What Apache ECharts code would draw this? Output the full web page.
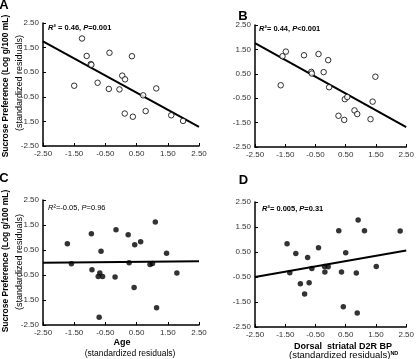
<!DOCTYPE html>
<html>
<head>
<meta charset="utf-8">
<script src="https://cdn.jsdelivr.net/npm/echarts@6/dist/echarts.min.js"></script>
<style>
html,body{margin:0;padding:0;background:#fff;}
#chart{width:417px;height:359px;}
</style>
</head>
<body>
<div id="chart"></div>
<script>
// tick values shared by every axis
var ticks = [-2.5, -1.5, -0.5, 0.5, 1.5, 2.5];

// A - open circles
var aX = [-1.25, -1.10, -0.97, -0.95, -1.50, -0.75, -0.37, -0.39, 0.04, 0.13, -0.05, 0.35, 0.12, 0.38, 0.71, 0.79, 1.13, 1.61, 1.99];
var aY = [1.87, 1.16, 0.83, 0.80, -0.05, 0.07, 1.29, -0.18, 0.36, 0.21, -0.20, 1.15, -1.18, -1.31, -0.44, -1.08, -0.16, -1.25, -1.48];
// B - open circles
var bX = [-1.65, -1.59, -1.48, -0.88, -0.64, -0.62, -0.40, -0.23, -0.08, -0.05, 0.26, 0.45, 0.47, 0.55, 0.79, 0.88, 1.32, 1.39, 1.48];
var bY = [0.03, 1.22, 1.41, 1.26, 0.58, 0.51, 1.31, 0.57, 1.06, -0.05, -1.22, -1.39, -0.54, -0.45, -1.00, -1.15, -1.36, -0.64, 0.38];
// C - filled dots
var cX = [-1.72, -1.59, -0.95, -0.64, -0.93, -0.68, -0.73, -0.59, -0.70, -0.19, -0.16, 0.23, 0.26, 0.44, 0.63, 0.42, 0.93, 1.01, 1.10, 1.14, 1.46, 1.79];
var cY = [0.75, -0.05, 1.15, 0.45, -0.29, -0.42, -0.56, -0.56, -2.19, -0.58, 1.31, 1.11, -0.01, 0.71, 0.83, -1.00, -0.08, -0.04, 1.62, -1.81, 0.37, -0.42];
// D - filled dots
var dX = [-1.44, -1.35, -1.15, -1.00, -0.86, -0.76, -0.71, -0.62, -0.40, -0.20, -0.19, -0.08, 0.27, 0.36, 0.42, 0.50, 0.85, 0.88, 0.91, 1.12, 1.51, 2.30];
var dY = [0.83, -0.33, 0.44, -0.77, -1.18, 0.28, -0.73, -0.16, 0.67, -0.08, -0.30, -0.09, 1.35, -0.30, -1.69, 0.47, -0.34, -1.94, 1.78, 1.35, -0.08, 1.34];

// regression lines (value at x=-2.5 and x=2.5)
var lineX = [-2.5, 2.5];
var lineA = [1.75, -1.72];
var lineB = [1.76, -1.69];
var lineC = [-0.01, 0.05];
var lineD = [-0.50, 0.56];

var font = '"Liberation Sans", Arial, sans-serif';

function zip(xs, ys) {
	var out = [];
	for (var i = 0; i < xs.length; i++) {
		out.push([xs[i], ys[i]]);
	}
	return out;
}

function makeAxis(idx) {
	return {
		gridIndex : idx,
		type : 'value',
		min : -2.5,
		max : 2.5,
		axisLine : {
			show : true,
			onZero : false,
			lineStyle : { color : '#000', width : 1.5 }
		},
		axisTick : {
			show : true,
			inside : true,
			length : 3,
			customValues : ticks,
			lineStyle : { color : '#000', width : 1 }
		},
		axisLabel : {
			customValues : ticks,
			formatter : function(v) { return v.toFixed(2); },
			fontSize : 8,
			fontFamily : font,
			color : '#333',
			margin : 4
		},
		splitLine : { show : false }
	};
}

function scatter(idx, xs, ys, open) {
	return {
		type : 'scatter',
		xAxisIndex : idx,
		yAxisIndex : idx,
		data : zip(xs, ys),
		symbolSize : 5.5,
		z : 3,
		itemStyle : open ? { color : '#fff', borderColor : '#000', borderWidth : 1 }
						 : { color : '#000' }
	};
}

function fitLine(idx, ys) {
	return {
		type : 'line',
		xAxisIndex : idx,
		yAxisIndex : idx,
		data : zip(lineX, ys),
		symbol : 'none',
		z : 2,
		lineStyle : { color : '#000', width : 2 }
	};
}

function txt(x, y, text, opt) {
	var style = {
		text : text,
		x : 0,
		y : 0,
		font : opt.font,
		fill : '#000',
		textAlign : opt.align || 'left',
		textVerticalAlign : 'middle'
	};
	if (opt.rich) style.rich = opt.rich;
	return {
		type : 'text',
		x : x,
		y : y,
		rotation : opt.rot || 0,
		style : style
	};
}

var stat = {
	b : { fontFamily : font, fontSize : 7.5, fontWeight : 'bold', fill : '#000' },
	i : { fontFamily : font, fontSize : 7.5, fontWeight : 'bold', fontStyle : 'italic', fill : '#000' },
	n : { fontFamily : font, fontSize : 7.5, fill : '#000' },
	ni : { fontFamily : font, fontSize : 7.5, fontStyle : 'italic', fill : '#000' }
};

var myChart = echarts.init(document.getElementById('chart'));
var option = {
	animation : false,
	backgroundColor : '#fff',
	grid : [
		{ left : 43, top : 23, width : 156, height : 123 },
		{ left : 255, top : 25, width : 155, height : 122 },
		{ left : 43, top : 200, width : 156, height : 125 },
		{ left : 255, top : 202, width : 154, height : 125 }
	],
	xAxis : [ makeAxis(0), makeAxis(1), makeAxis(2), makeAxis(3) ],
	yAxis : [ makeAxis(0), makeAxis(1), makeAxis(2), makeAxis(3) ],
	series : [
		fitLine(0, lineA), scatter(0, aX, aY, true),
		fitLine(1, lineB), scatter(1, bX, bY, true),
		fitLine(2, lineC), scatter(2, cX, cY, false),
		fitLine(3, lineD), scatter(3, dX, dY, false)
	],
	graphic : [
		// panel letters
		txt(4, 5, 'A', { font : 'bold 13px ' + font, align : 'center' }),
		txt(243, 16, 'B', { font : 'bold 13px ' + font, align : 'center' }),
		txt(4, 178, 'C', { font : 'bold 13px ' + font, align : 'center' }),
		txt(243.5, 180.5, 'D', { font : 'bold 13px ' + font, align : 'center' }),
		// stats
		txt(48, 28, '{i|R}{b|² = 0.46, }{i|P}{b|=0.001}', { font : 'bold 7.5px ' + font, rich : stat }),
		txt(259, 28.5, '{i|R}{b|²= 0.44, }{i|P}{b|<0.001}', { font : 'bold 7.5px ' + font, rich : stat }),
		txt(48, 208, '{ni|R}{n|²=-0.05, }{ni|P}{n|=0.96}', { font : '7.5px ' + font, rich : stat }),
		txt(262, 208.5, '{i|R}{b|²= 0.005, }{i|P}{b|=0.31}', { font : 'bold 7.5px ' + font, rich : stat }),
		// y names
		txt(6, 86, 'Sucrose Preference (Log g/100 mL)', { font : 'bold 8.5px ' + font, align : 'center', rot : Math.PI / 2 }),
		txt(19.5, 83, '(standardized residuals)', { font : '9px ' + font, align : 'center', rot : Math.PI / 2 }),
		txt(6, 261, 'Sucrose Preference (Log g/100 mL)', { font : 'bold 8.5px ' + font, align : 'center', rot : Math.PI / 2 }),
		txt(19.5, 262, '(standardized residuals)', { font : '9px ' + font, align : 'center', rot : Math.PI / 2 }),
		// x names
		txt(122, 343, 'Age', { font : 'bold 9px ' + font, align : 'center' }),
		txt(130, 354, '(standardized residuals)', { font : '8.5px ' + font, align : 'center' }),
		txt(343, 346.5, 'Dorsal  striatal D2R BP', { font : 'bold 9px ' + font, align : 'center' }),
		txt(289, 355.5, '{n|(standardized residuals)}{s|ND}', {
			font : '9.5px ' + font,
			rich : {
				n : { fontFamily : font, fontSize : 9.5, fill : '#000' },
				s : { fontFamily : font, fontSize : 5.5, fontWeight : 'bold', fill : '#000', verticalAlign : 'top' }
			}
		})
	]
};
myChart.setOption(option);
</script>
</body>
</html>
